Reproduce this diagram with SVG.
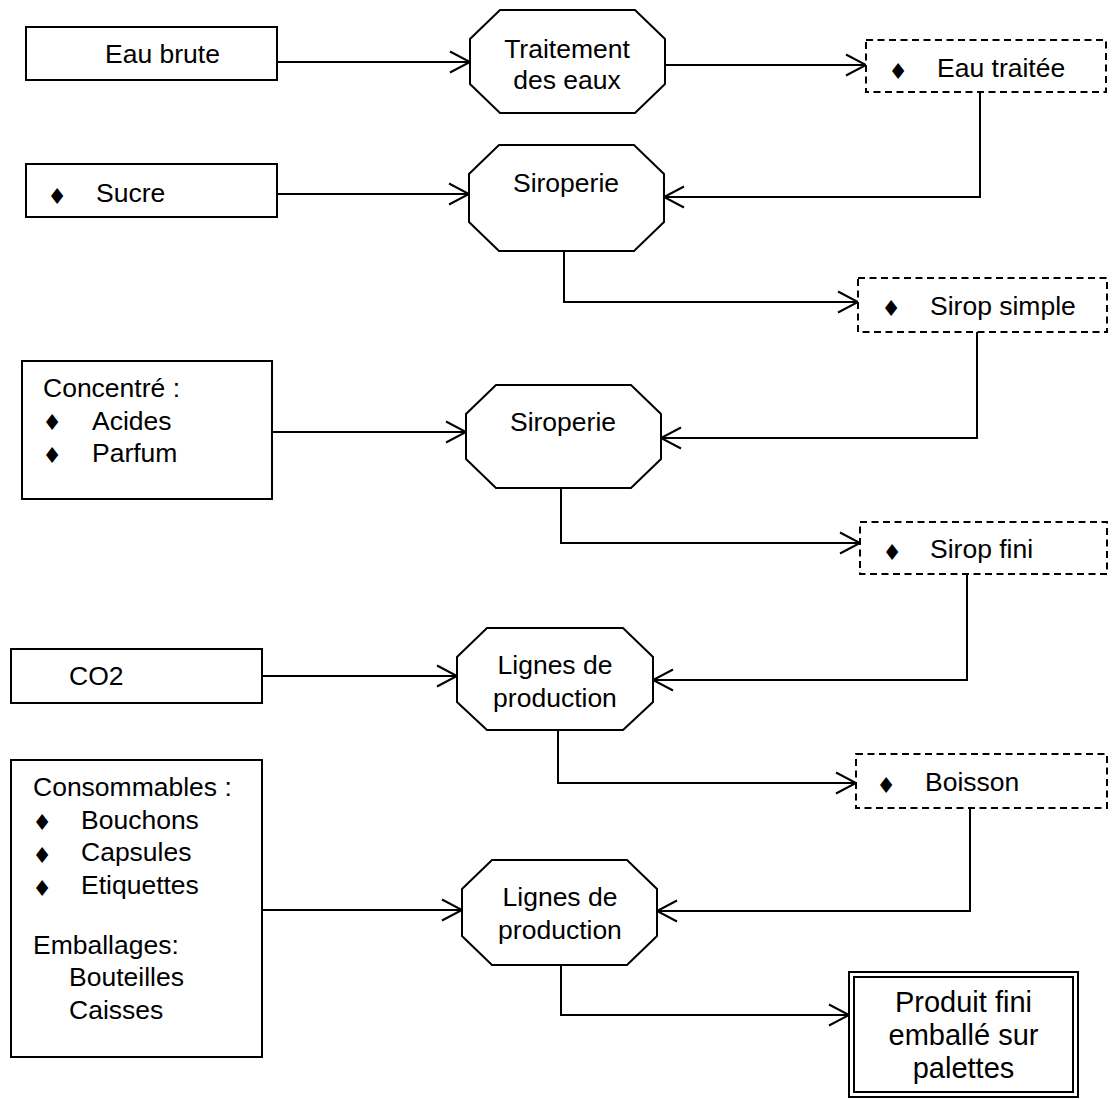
<svg xmlns="http://www.w3.org/2000/svg" width="1112" height="1099" viewBox="0 0 1112 1099">
  <style>
    .box { fill: #fff; stroke: #000; stroke-width: 2; }
    .store { fill: #fff; stroke: #000; stroke-width: 2; stroke-dasharray: 7 4.5; }
    .step { fill: #fff; stroke: #000; stroke-width: 2; stroke-linejoin: miter; }
    .link { fill: none; stroke: #000; stroke-width: 2; marker-end: url(#arrow); }
    text { font-family: "Liberation Sans", Arial, sans-serif; font-size: 26.5px; fill: #000; }
    .mid { text-anchor: middle; }
    .big { font-size: 29px; }
    .dot { font-family: "DejaVu Sans", sans-serif; font-size: 22px; text-anchor: middle; }
  </style>
  <defs>
    <marker id="arrow" markerUnits="userSpaceOnUse" viewBox="-23 -13 26 26" refX="0" refY="0" markerWidth="26" markerHeight="26" orient="auto">
      <path d="M-20,-10.5 L0,0 L-20,10.5" fill="none" stroke="#000" stroke-width="2"/>
    </marker>
  </defs>
  <rect width="1112" height="1099" fill="#fff"/>

  <!-- connectors -->
  <g id="connectors">
    <path class="link" d="M277,62 H470"/>
    <path class="link" d="M665,65 H866"/>
    <path class="link" d="M277,194 H469"/>
    <path class="link" d="M980,92 V197 H664"/>
    <path class="link" d="M564,251 V302 H858"/>
    <path class="link" d="M272,432 H466"/>
    <path class="link" d="M977,332 V438 H661"/>
    <path class="link" d="M561,488 V543 H860"/>
    <path class="link" d="M262,676 H457"/>
    <path class="link" d="M967,574 V680 H653"/>
    <path class="link" d="M558,730 V783 H856"/>
    <path class="link" d="M262,910 H462"/>
    <path class="link" d="M970,808 V911 H657"/>
    <path class="link" d="M561,965 V1015 H849"/>
  </g>

  <!-- inputs -->
  <g id="eau-brute">
    <rect class="box" x="26" y="27" width="251" height="53"/>
    <text x="105" y="63">Eau brute</text>
  </g>
  <g id="sucre">
    <rect class="box" x="26" y="164" width="251" height="53"/>
    <text class="dot" x="57" y="204">♦</text>
    <text x="96" y="202">Sucre</text>
  </g>
  <g id="concentre">
    <rect class="box" x="22" y="361" width="250" height="138"/>
    <text x="43" y="397">Concentré :</text>
    <text class="dot" x="52" y="430">♦</text>
    <text x="92" y="430">Acides</text>
    <text class="dot" x="52" y="463">♦</text>
    <text x="92" y="462">Parfum</text>
  </g>
  <g id="co2">
    <rect class="box" x="11" y="649" width="251" height="54"/>
    <text x="69" y="685">CO2</text>
  </g>
  <g id="consommables">
    <rect class="box" x="11" y="760" width="251" height="297"/>
    <text x="33" y="796">Consommables :</text>
    <text class="dot" x="42" y="830">♦</text>
    <text x="81" y="829">Bouchons</text>
    <text class="dot" x="42" y="863">♦</text>
    <text x="81" y="861">Capsules</text>
    <text class="dot" x="42" y="896">♦</text>
    <text x="81" y="894">Etiquettes</text>
    <text x="33" y="954">Emballages:</text>
    <text x="69" y="986">Bouteilles</text>
    <text x="69" y="1019">Caisses</text>
  </g>

  <!-- process steps -->
  <g id="traitement">
    <polygon class="step" points="500,10 635,10 665,39 665,84 635,113 500,113 470,84 470,39"/>
    <text class="mid" x="567" y="58">Traitement</text>
    <text class="mid" x="567" y="89">des eaux</text>
  </g>
  <g id="siroperie-1">
    <polygon class="step" points="499,145 634,145 664,174 664,222 634,251 499,251 469,222 469,174"/>
    <text class="mid" x="566" y="192">Siroperie</text>
  </g>
  <g id="siroperie-2">
    <polygon class="step" points="496,385 631,385 661,414 661,459 631,488 496,488 466,459 466,414"/>
    <text class="mid" x="563" y="431">Siroperie</text>
  </g>
  <g id="lignes-1">
    <polygon class="step" points="487,628 623,628 653,657 653,702 623,730 487,730 457,702 457,657"/>
    <text class="mid" x="555" y="674">Lignes de</text>
    <text class="mid" x="555" y="707">production</text>
  </g>
  <g id="lignes-2">
    <polygon class="step" points="492,860 627,860 657,889 657,936 627,965 492,965 462,936 462,889"/>
    <text class="mid" x="560" y="906">Lignes de</text>
    <text class="mid" x="560" y="939">production</text>
  </g>

  <!-- intermediate products -->
  <g id="eau-traitee">
    <rect class="store" x="866" y="40" width="240" height="52"/>
    <text class="dot" x="898" y="79">♦</text>
    <text x="937" y="77">Eau traitée</text>
  </g>
  <g id="sirop-simple">
    <rect class="store" x="858" y="278" width="249" height="54"/>
    <text class="dot" x="891" y="316">♦</text>
    <text x="930" y="315">Sirop simple</text>
  </g>
  <g id="sirop-fini">
    <rect class="store" x="860" y="522" width="247" height="52"/>
    <text class="dot" x="892" y="560">♦</text>
    <text x="930" y="558">Sirop fini</text>
  </g>
  <g id="boisson">
    <rect class="store" x="856" y="754" width="251" height="54"/>
    <text class="dot" x="886" y="793">♦</text>
    <text x="925" y="791">Boisson</text>
  </g>

  <!-- finished product -->
  <g id="produit-fini">
    <rect class="box" x="849" y="972" width="229" height="125" stroke-width="3"/>
    <rect class="box" x="854" y="977" width="219" height="115"/>
    <text class="mid big" x="963.5" y="1012">Produit fini</text>
    <text class="mid big" x="963.5" y="1045">emballé sur</text>
    <text class="mid big" x="963.5" y="1078">palettes</text>
  </g>
</svg>
